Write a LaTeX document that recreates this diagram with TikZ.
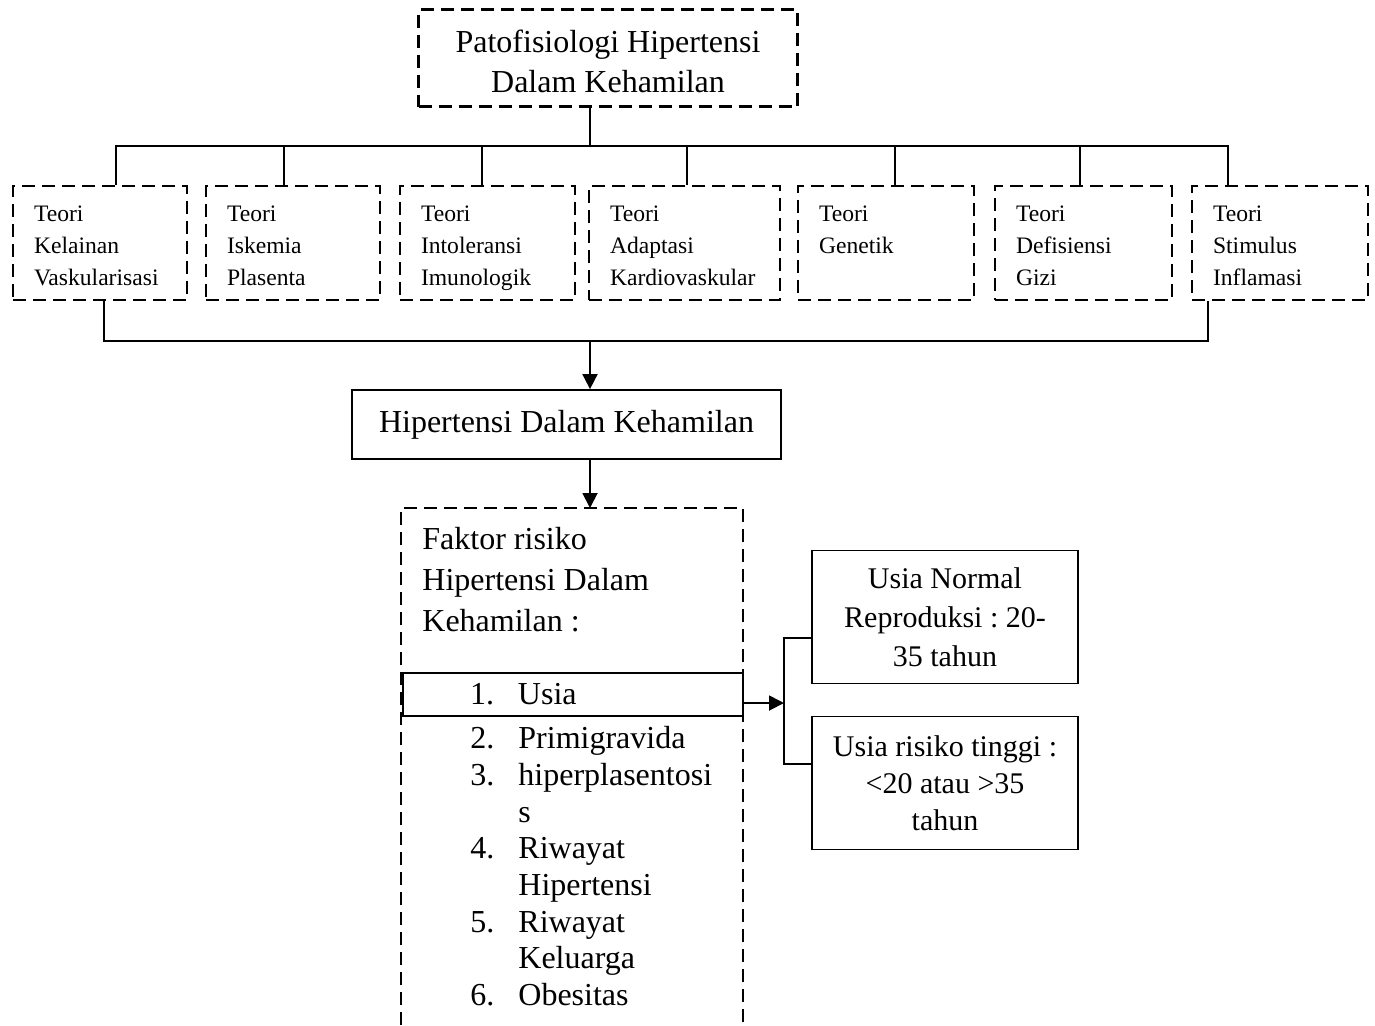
\documentclass[tikz,border=0pt]{standalone}
\usepackage{fontspec}
\setmainfont{Liberation Serif}
\usetikzlibrary{arrows.meta}

\begin{document}
\frenchspacing
\begin{tikzpicture}[x=0.5pt,y=-0.5pt,>={Triangle[length=7.5pt,width=7.5pt]},
  dbox/.style={draw,line width=1.3pt,dash pattern=on 6.5pt off 3.5pt},
  teori/.style={dbox,align=left,inner xsep=10.5pt,inner ysep=0pt,minimum height=57pt,
    font=\fontsize{11.8}{16}\selectfont,
    execute at begin node={\rule{0pt}{15pt}},execute at end node=\strut},
  sbox/.style={draw,line width=0.9pt},
  link/.style={line width=0.9pt}]
  \useasboundingbox (0,0) rectangle (1375,1025);
  % judul
  \node[dbox,minimum width=189.5pt,minimum height=48.5pt,align=center,
    font=\fontsize{16}{20}\selectfont] (top) at (608,58)
    {\rule{0pt}{15pt}Patofisiologi Hipertensi\\Dalam Kehamilan};
  % teori
  \foreach \n/\x/\w/\txt in {t1/100/66/{Teori\\Kelainan\\Vaskularisasi},
      t2/293/66/{Teori\\Iskemia\\Plasenta},
      t3/487.5/66.5/{Teori\\Intoleransi\\Imunologik},
      t4/684.5/74.5/{Teori\\Adaptasi\\Kardiovaskular},
      t5/886/67/{Teori\\Genetik\\\mbox{}},
      t6/1083.5/67.5/{Teori\\Defisiensi\\Gizi},
      t7/1280/67/{Teori\\Stimulus\\Inflamasi}}
    \node[teori,text width=\w pt] (\n) at (\x,243) {\txt};
  \coordinate (bus) at (590,146);
  \draw[link] (top.south -| bus) -- (bus);
  \draw[link] (t1.north -| 116,0) |- (bus) -| (t7.north -| 1228,0);
  \foreach \n/\x in {t2/284,t3/482,t4/687,t5/895,t6/1080}
    \draw[link] (\n.north -| \x,0) |- (bus);
  \coordinate (bus2) at (590,341);
  \draw[link] (t1.south -| 104,0) |- (bus2) -| (t7.south -| 1208,0);
  % hipertensi dalam kehamilan
  \node[sbox,minimum width=214.5pt,minimum height=34.5pt,
    font=\fontsize{16}{20}\selectfont] (hdk) at (566.5,424.5)
    {Hipertensi Dalam Kehamilan};
  \draw[link,->] (bus2) -- (hdk.north -| bus2);
  % faktor risiko
  \coordinate (fkL) at (401,508);
  \coordinate (fkR) at (743,508);
  \draw[dbox] (fkL |- 0,1025) -- (fkL) -- (fkR) -- (fkR |- 0,1025);
  \draw[link,->] (hdk.south -| bus2) -- (fkL -| bus2);
  \node[anchor=north west,inner sep=0,align=left,
    font=\fontsize{16}{20.5}\selectfont] (fkhead) at (422,527)
    {Faktor risiko\\Hipertensi Dalam\\Kehamilan :};
  \node[sbox,minimum width=170pt,minimum height=21.5pt,inner sep=0,
    text width=170pt,align=left,font=\fontsize{16}{20}\selectfont] (usia)
    at (573,694.5) {\hspace*{33.5pt}\makebox[24pt][l]{1.}Usia};
  \node[anchor=north west,inner sep=0,align=left,
    font=\fontsize{16}{18.35}\selectfont] (items) at (470,726)
    {\makebox[24pt][l]{2.}Primigravida\\
     \makebox[24pt][l]{3.}hiperplasentosi\\
     \hspace*{24pt}s\\
     \makebox[24pt][l]{4.}Riwayat\\
     \hspace*{24pt}Hipertensi\\
     \makebox[24pt][l]{5.}Riwayat\\
     \hspace*{24pt}Keluarga\\
     \makebox[24pt][l]{6.}Obesitas};
  % usia
  \node[sbox,minimum width=133pt,minimum height=66.5pt,align=center,
    font=\fontsize{15}{19.5}\selectfont] (r1) at (945,617)
    {Usia Normal\\Reproduksi : 20-\\35 tahun};
  \node[sbox,minimum width=133pt,minimum height=66.5pt,align=center,
    font=\fontsize{15}{18.5}\selectfont] (r2) at (945,783)
    {Usia risiko tinggi :\\<20 atau >35\\tahun};
  \coordinate (split) at (784,703);
  \draw[link,->] (usia.east |- split) -- (split);
  \draw[link] (r1.west |- 0,638) -| (split) |- (r2.west |- 0,764);
\end{tikzpicture}
\end{document}
